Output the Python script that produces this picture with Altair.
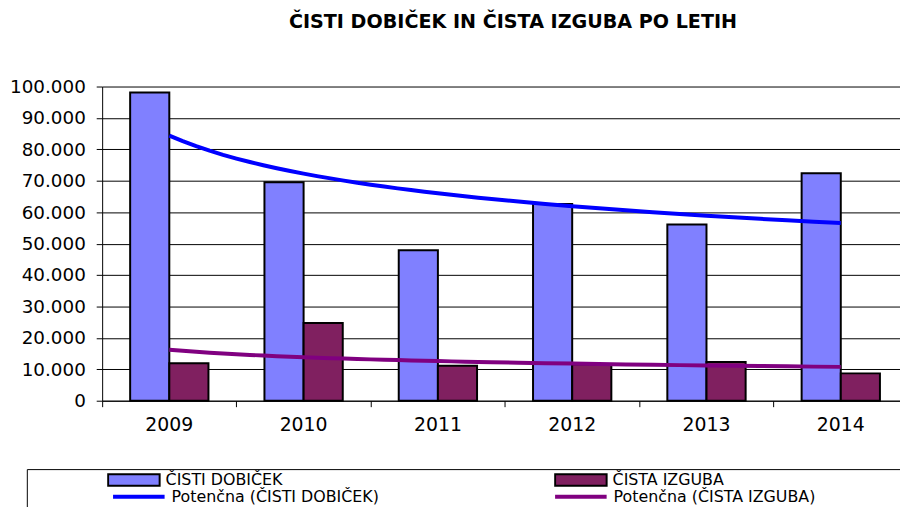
import altair as alt
import pandas as pd

# ---- data ----
years = ["2009", "2010", "2011", "2012", "2013", "2014"]
year_index = [1, 2, 3, 4, 5, 6]
cisti_dobicek = [98100, 69500, 47900, 62600, 56100, 72400]
cista_izguba = [11900, 24700, 11100, 11600, 12300, 8700]
series_names = ["ČISTI DOBIČEK", "ČISTA IZGUBA"]
trend_names = ["Potenčna (ČISTI DOBIČEK)", "Potenčna (ČISTA IZGUBA)"]
bar_colors = ["#8080FF", "#802060"]
trend_colors = ["#0000FF", "#800080"]
y_ticks = [0, 10000, 20000, 30000, 40000, 50000, 60000, 70000, 80000, 90000, 100000]
title_text = "ČISTI DOBIČEK IN ČISTA IZGUBA PO LETIH"

rows = []
for s, vals in zip(series_names, [cisti_dobicek, cista_izguba]):
    for y, t, v in zip(years, year_index, vals):
        rows.append({"year": y, "t": t, "series": s, "value": v})
df = pd.DataFrame(rows)

FONT = "DejaVu Sans"
PLOT_W = 805
RANGE_W = 813
PLOT_H = 317
LEG_FS = 16
blank = "\u00a0\u200b"          # invisible spacer that is not trimmed away
pad = "\u00a0" * 35 + "\u200b"  # widens the legend frame to the right edge

bar_legend = alt.Legend(
    title=[blank, blank, blank, blank, blank],
    titleOrient="left",
    titleFontSize=11,
    titleLineHeight=16,
    titlePadding=78,
    orient="none",
    legendX=-76,
    legendY=386,
    columns=2,
    columnPadding=273,
    rowPadding=0,
    padding=3,
    strokeColor="black",
    symbolType="M-1,-0.22H1V0.22H-1Z",
    symbolSize=2704,
    symbolStrokeColor="black",
    symbolStrokeWidth=2,
    symbolOpacity=1,
    clipHeight=16,
    labelOffset=5,
    labelFont=FONT,
    labelFontSize=LEG_FS,
    labelColor="black",
    labelLimit=2000,
    labelExpr="indexof(datum.label, 'IZGUBA') >= 0 ? datum.label + '" + pad + "' : datum.label",
    zindex=0,
)

trend_legend = alt.Legend(
    title=None,
    orient="none",
    legendX=9,
    legendY=406,
    columns=2,
    columnPadding=175,
    rowPadding=0,
    padding=0,
    symbolType="stroke",
    symbolSize=2704,
    symbolStrokeWidth=4,
    symbolOpacity=1,
    clipHeight=16,
    labelOffset=5,
    labelFont=FONT,
    labelFontSize=LEG_FS,
    labelColor="black",
    labelLimit=2000,
    zindex=1,
)

yaxis = alt.Axis(
    title=None,
    values=y_ticks,
    labelExpr="replace(format(datum.value, ','), ',', '.')",
    labelFont=FONT,
    labelFontSize=18.5,
    labelColor="black",
    labelPadding=11,
    tickSize=6,
    tickColor="black",
    domainColor="black",
    gridColor="black",
    gridWidth=1,
    grid=True,
)

xaxis = alt.Axis(
    title=None,
    labelAngle=0,
    labelFont=FONT,
    labelFontSize=19,
    labelColor="black",
    labelPadding=9,
    tickSize=6,
    tickColor="black",
    domainColor="black",
    bandPosition=0,
    grid=False,
)

y_scale = alt.Scale(domain=[0, 100000], nice=False)

bars = alt.Chart(df).mark_bar(stroke="black", strokeWidth=2).encode(
    x=alt.X("year:N", sort=years,
            scale=alt.Scale(range=[0, RANGE_W], paddingInner=0, paddingOuter=0),
            axis=xaxis),
    xOffset=alt.XOffset("series:N", sort=series_names,
                        scale=alt.Scale(paddingInner=0, paddingOuter=0.715)),
    y=alt.Y("value:Q", scale=y_scale, axis=yaxis),
    fill=alt.Fill("series:N", sort=series_names,
                  scale=alt.Scale(domain=series_names, range=bar_colors),
                  legend=bar_legend),
)

lines = alt.Chart(df).transform_regression(
    "t", "value", method="pow", groupby=["series"]
).transform_calculate(
    trend="'Potenčna (' + datum.series + ')'"
).mark_line(strokeWidth=4).encode(
    x=alt.X("t:Q", scale=alt.Scale(domain=[0.5, 6.5], range=[0, RANGE_W], nice=False, zero=False),
            axis=None),
    y=alt.Y("value:Q", scale=y_scale, axis=yaxis),
    stroke=alt.Stroke("trend:N", sort=trend_names,
                      scale=alt.Scale(domain=trend_names, range=trend_colors),
                      legend=trend_legend),
)

chart = alt.layer(bars, lines).resolve_scale(x="independent").properties(
    width=PLOT_W,
    height=PLOT_H,
    title=alt.TitleParams(
        text=title_text, font=FONT, fontSize=19.3, fontWeight="bold", color="black",
        anchor="middle", frame="group", offset=46, dx=12,
    ),
    autosize=alt.AutoSizeParams(type="none"),
    padding={"left": 95, "top": 77, "right": 0, "bottom": 105},
    background="white",
).configure_view(strokeWidth=0)

chart.save("out.html", embed_options={"renderer": "svg", "actions": False})
